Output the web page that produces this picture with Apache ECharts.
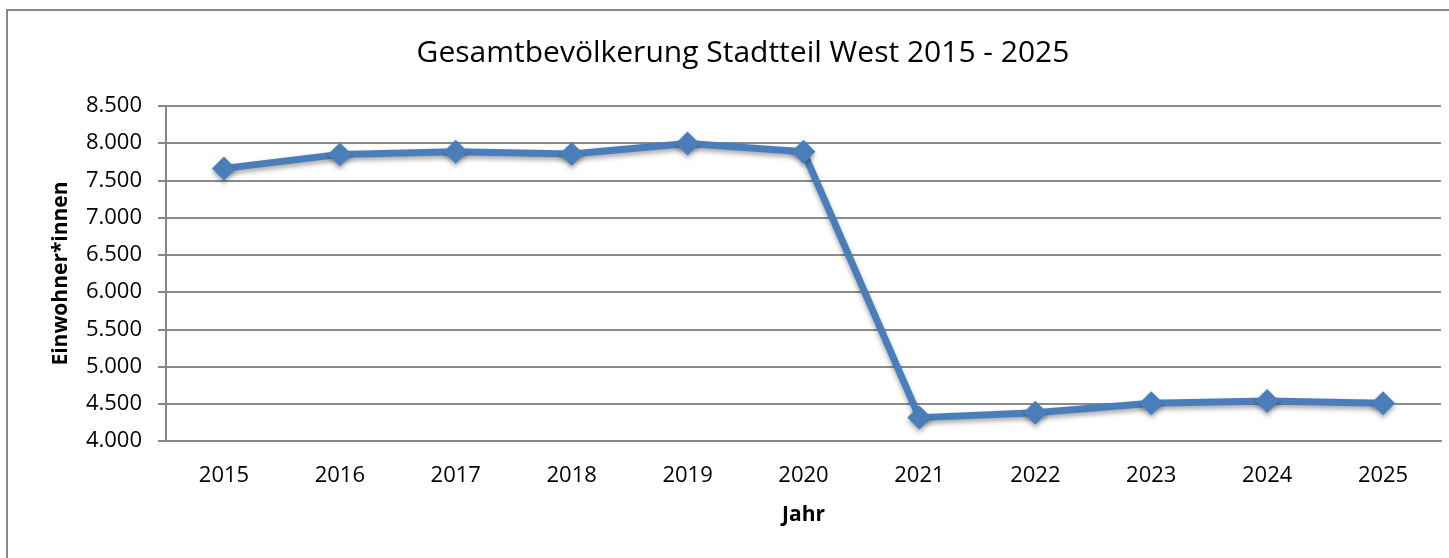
<!DOCTYPE html>
<html>
<head>
<meta charset="utf-8">
<script src="https://cdn.jsdelivr.net/npm/echarts@6/dist/echarts.min.js"></script>
<style>
html,body{margin:0;padding:0;background:#fff;}
#main{width:1449px;height:558px;}
</style>
</head>
<body>
<div id="main"></div>
<script>
// Daten
var jahre = ['2015','2016','2017','2018','2019','2020','2021','2022','2023','2024','2025'];
var einwohner = [7662, 7850, 7886, 7855, 7995, 7886, 4314, 4381, 4507, 4538, 4507];

var myChart = echarts.init(document.getElementById('main'));
var fnt = '"Open Sans", "Liberation Sans", sans-serif';

function deFormat(v) {
    var s = String(v);
    return s.length > 3 ? s.slice(0, s.length - 3) + '.' + s.slice(-3) : s;
}

var option = {
    backgroundColor: '#fff',
    title: {
        text: 'Gesamtbevölkerung Stadtteil West 2015 - 2025',
        left: 738,
        textAlign: 'center',
        top: 33,
        textStyle: { fontFamily: fnt, fontSize: 30, fontWeight: 'normal', color: '#000' }
    },
    graphic: [{
        type: 'rect',
        shape: { x: 7, y: 10, width: 1460, height: 560 },
        style: { fill: null, stroke: '#888', lineWidth: 2 },
        silent: true
    }],
    grid: { left: 166, right: 8, top: 106, bottom: 117 },
    xAxis: {
        type: 'category',
        data: jahre,
        boundaryGap: true,
        name: 'Jahr',
        nameLocation: 'middle',
        nameGap: 64,
        nameTextStyle: { fontFamily: fnt, fontSize: 21, fontWeight: 'bold', color: '#000' },
        axisLine: { lineStyle: { color: '#868686', width: 2 } },
        axisTick: { show: false },
        axisLabel: { fontFamily: fnt, fontSize: 22, color: '#000', margin: 24 }
    },
    yAxis: {
        type: 'value',
        min: 4000,
        max: 8500,
        interval: 500,
        name: 'Einwohner*innen',
        nameLocation: 'middle',
        nameGap: 94,
        nameTextStyle: { fontFamily: fnt, fontSize: 21, fontWeight: 'bold', color: '#000' },
        axisLine: { show: true, lineStyle: { color: '#868686', width: 2 } },
        axisTick: { show: true, length: 8, lineStyle: { color: '#868686', width: 2 } },
        splitLine: { lineStyle: { color: '#8c8c8c', width: 2 } },
        axisLabel: { fontFamily: fnt, fontSize: 22, color: '#000', margin: 24, formatter: deFormat }
    },
    series: [{
        type: 'line',
        data: einwohner,
        symbol: 'diamond',
        symbolSize: 24,
        lineStyle: { color: '#4a7ebb', width: 7, shadowColor: 'rgba(0,0,0,0.35)', shadowBlur: 5, shadowOffsetY: 3 },
        itemStyle: { color: '#4a7ebb', shadowColor: 'rgba(0,0,0,0.35)', shadowBlur: 5, shadowOffsetY: 3 },
        animation: false
    }]
};
myChart.setOption(option);
</script>
</body>
</html>
